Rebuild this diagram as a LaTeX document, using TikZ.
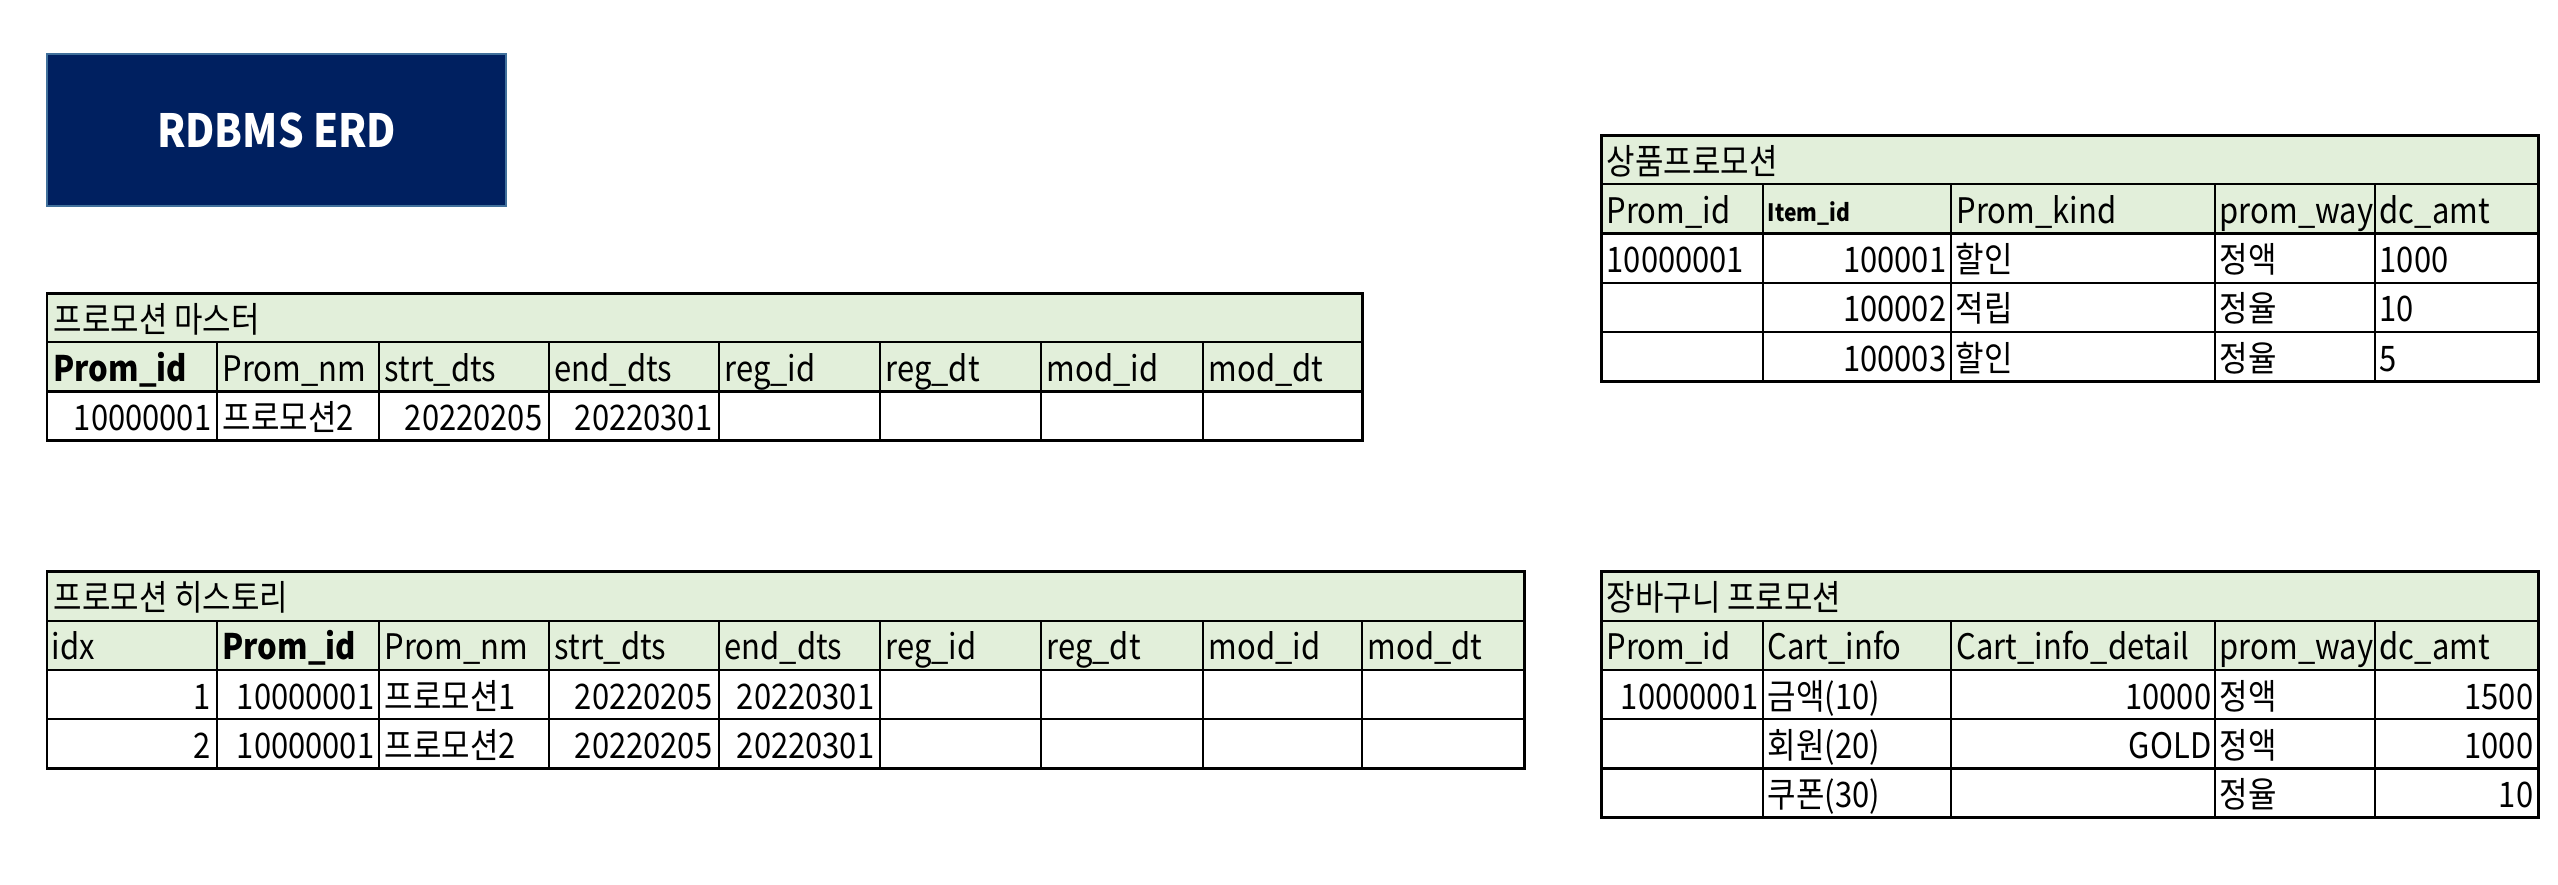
\documentclass[tikz,border=0pt]{standalone}
\usepackage{fontspec}
\newfontfamily\krfont[FakeStretch=0.88]{Noto Sans CJK KR}
\definecolor{navy}{HTML}{002060}
\definecolor{navyedge}{HTML}{41719C}
\definecolor{headgreen}{HTML}{E2EFDA}
\tikzset{
  cell/.style={inner sep=0pt, anchor=base west},
  num/.style={inner sep=0pt, anchor=base east},
  inner line/.style={line width=0.65pt},
  outer line/.style={line width=0.85pt},
}
\begin{document}
\begin{tikzpicture}[x=0.01cm, y=-0.01cm, font=\krfont\fontsize{10}{12}\selectfont]
    \useasboundingbox (0,0) rectangle (2558,884);

    % Banner
    \node[draw=navyedge, fill=navy, line width=0.5pt, minimum width=4.585cm, minimum height=1.52cm,
          text=white, font=\krfont\bfseries\fontsize{13}{15}\selectfont] (banner) at (276.75,130) {RDBMS ERD};

    % Table 1: promotion master
    \fill[headgreen] (47,293) rectangle (1362,391.6);
    \foreach \y in {342.3,391.6} \draw[inner line] (47,\y) -- (1362,\y);
    \foreach \x in {217,379,549,719,880,1041,1203} \draw[inner line] (\x,342.3) -- (\x,440.9);
    \draw[outer line] (47,293) rectangle (1362,440.9);
    \node[cell] (m-title) at (53,332) {프로모션 마스터};
    \foreach \t/\x [count=\i] in {{\bfseries Prom\_id}/53, Prom\_nm/222, strt\_dts/384, end\_dts/554,
                                  reg\_id/724, reg\_dt/885, mod\_id/1046, mod\_dt/1208}
      \node[cell] (m-h\i) at (\x,381.3) {\t};
    \node[num]  (m-id)   at (212,430.6) {10000001};
    \node[cell] (m-nm)   at (222,430.6) {프로모션2};
    \node[num]  (m-strt) at (543,430.6) {20220205};
    \node[num]  (m-end)  at (713,430.6) {20220301};

    % Table 2: promotion history
    \fill[headgreen] (47,571.7) rectangle (1524,670.1);
    \foreach \y in {620.9,670.1,719.3} \draw[inner line] (47,\y) -- (1524,\y);
    \foreach \x in {217,379,549,719,880,1041,1203,1362} \draw[inner line] (\x,620.9) -- (\x,768.5);
    \draw[outer line] (47,571.7) rectangle (1524,768.5);
    \node[cell] (h-title) at (53,610.7) {프로모션 히스토리};
    \foreach \t/\x [count=\i] in {idx/51, {\bfseries Prom\_id}/222, Prom\_nm/384, strt\_dts/554, end\_dts/724,
                                  reg\_id/885, reg\_dt/1046, mod\_id/1208, mod\_dt/1367}
      \node[cell] (h-h\i) at (\x,659.9) {\t};
    \foreach \n/\y in {1/709.1, 2/758.3} {
      \node[num]  (h-idx\n)  at (211,\y) {\n};
      \node[num]  (h-id\n)   at (375,\y) {10000001};
      \node[cell] (h-nm\n)   at (384,\y) {프로모션\n};
      \node[num]  (h-strt\n) at (713,\y) {20220205};
      \node[num]  (h-end\n)  at (875,\y) {20220301};
    }

    % Table 3: item promotion
    \fill[headgreen] (1601,135) rectangle (2538,233.6);
    \foreach \y in {184.3,233.6,282.9,332.2} \draw[inner line] (1601,\y) -- (2538,\y);
    \foreach \x in {1763,1951,2215,2375} \draw[inner line] (\x,184.3) -- (\x,381.5);
    \draw[outer line] (1601,135) rectangle (2538,381.5);
    \node[cell] (p-title) at (1606,174) {상품프로모션};
    \node[cell] (p-h1) at (1606,223.3) {Prom\_id};
    \node[cell, font=\krfont\bfseries\fontsize{6.8}{8}\selectfont] (p-h2) at (1767,221) {Item\_id};
    \node[cell] (p-h3) at (1956,223.3) {Prom\_kind};
    \node[cell] (p-h4) at (2219,223.3) {prom\_way};
    \node[cell] (p-h5) at (2379,223.3) {dc\_amt};
    \node[cell] (p-id) at (1606,272.6) {10000001};
    \foreach \item/\kind/\way/\amt/\y [count=\i] in {100001/할인/정액/1000/272.6,
                                                    100002/적립/정율/10/321.9,
                                                    100003/할인/정율/5/371.2} {
      \node[num]  (p-item\i) at (1947,\y) {\item};
      \node[cell] (p-kind\i) at (1955,\y) {\kind};
      \node[cell] (p-way\i)  at (2219,\y) {\way};
      \node[cell] (p-amt\i)  at (2379,\y) {\amt};
    }

    % Table 4: cart promotion
    \fill[headgreen] (1601,571.7) rectangle (2538,670.1);
    \foreach \y in {620.9,670.1,719.3,768.5} \draw[inner line] (1601,\y) -- (2538,\y);
    \foreach \x in {1763,1951,2215,2375} \draw[inner line] (\x,620.9) -- (\x,817.7);
    \draw[outer line] (1601,571.7) rectangle (2538,817.7);
    \node[cell] (c-title) at (1606,610.7) {장바구니 프로모션};
    \foreach \t/\x [count=\i] in {Prom\_id/1606, Cart\_info/1767, Cart\_info\_detail/1956,
                                  prom\_way/2219, dc\_amt/2379}
      \node[cell] (c-h\i) at (\x,659.9) {\t};
    \node[num] (c-id) at (1759,709.1) {10000001};
    \foreach \info/\detail/\way/\amt/\y [count=\i] in {금액(10)/10000/정액/1500/709.1,
                                                      회원(20)/GOLD/정액/1000/758.3,
                                                      쿠폰(30)//정율/10/807.5} {
      \node[cell] (c-info\i)   at (1767,\y) {\info};
      \node[num]  (c-detail\i) at (2212,\y) {\detail};
      \node[cell] (c-way\i)    at (2219,\y) {\way};
      \node[num]  (c-amt\i)    at (2534,\y) {\amt};
    }
\end{tikzpicture}
\end{document}
